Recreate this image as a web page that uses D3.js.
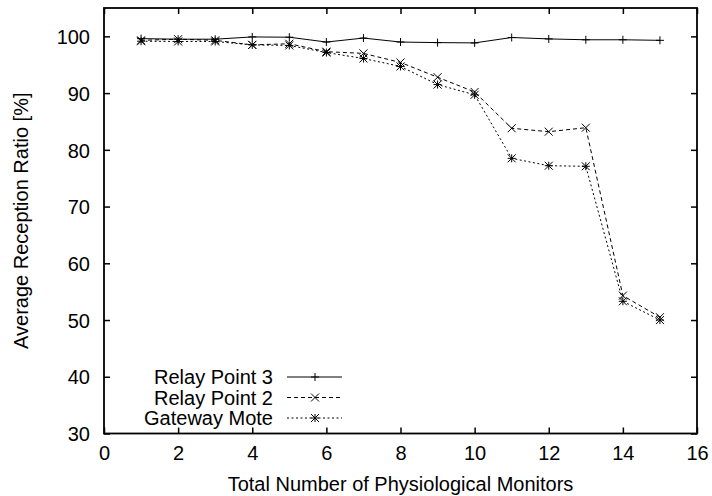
<!DOCTYPE html>
<html>
<head>
<meta charset="utf-8">
<script src="https://cdn.jsdelivr.net/npm/d3@7"></script>
<style>
  html, body { margin: 0; padding: 0; background: #fff; }
  svg text { font-family: "Liberation Sans", Arial, Helvetica, sans-serif; fill: #000; }
</style>
</head>
<body>
<svg id="chart" width="712" height="496"></svg>
<script>
// Number of physiological monitors on the x axis
const monitors = [1, 2, 3, 4, 5, 6, 7, 8, 9, 10, 11, 12, 13, 14, 15];

// Average reception ratio (%) per receiver
const relayPoint3 = [99.6, 99.5, 99.5, 99.9, 99.85, 99.0, 99.7, 99.0, 98.9, 98.85, 99.8, 99.55, 99.4, 99.4, 99.3];
const relayPoint2 = [99.3, 99.5, 99.3, 98.5, 98.7, 97.3, 97.0, 95.4, 92.8, 90.2, 83.8, 83.2, 83.9, 54.3, 50.5];
const gatewayMote = [99.15, 99.1, 99.1, 98.5, 98.4, 97.15, 96.1, 94.7, 91.5, 89.7, 78.5, 77.2, 77.1, 53.3, 50.0];

const xTicks = [0, 2, 4, 6, 8, 10, 12, 14, 16];
const yTicks = [30, 40, 50, 60, 70, 80, 90, 100];

const seriesNames = ["Relay Point 3", "Relay Point 2", "Gateway Mote"];
const seriesValues = [relayPoint3, relayPoint2, gatewayMote];
const seriesDash = [null, "4,3", "2,2.5"];
const seriesMarker = ["plus", "cross", "star"];

const fontSize = 20;

const svg = d3.select("#chart");
const plotLeft = 104, plotRight = 697, plotTop = 8, plotBottom = 433.5;

const x = d3.scaleLinear().domain([0, 16]).range([plotLeft, plotRight]);
const y = d3.scaleLinear().domain([30, 105]).range([plotBottom, plotTop]);

const tickLen = 6;

// Axes with inward ticks on all four sides
const gx = svg.append("g").attr("transform", `translate(0,${plotBottom})`)
  .call(d3.axisBottom(x).tickValues(xTicks).tickSize(-tickLen).tickPadding(12).tickFormat(d3.format("d")));
const gxTop = svg.append("g").attr("transform", `translate(0,${plotTop})`)
  .call(d3.axisTop(x).tickValues(xTicks).tickSize(-tickLen).tickFormat(""));
const gy = svg.append("g").attr("transform", `translate(${plotLeft},0)`)
  .call(d3.axisLeft(y).tickValues(yTicks).tickSize(-tickLen).tickPadding(14).tickFormat(d3.format("d")));
const gyRight = svg.append("g").attr("transform", `translate(${plotRight},0)`)
  .call(d3.axisRight(y).tickValues(yTicks).tickSize(-tickLen).tickFormat(""));

[gx, gxTop, gy, gyRight].forEach(g => {
  g.select(".domain").remove();
  g.selectAll(".tick line").attr("stroke", "#000").attr("stroke-width", 1.5);
  g.selectAll(".tick text").attr("font-size", fontSize).attr("fill", "#000");
});
gx.selectAll(".tick text").attr("dy", "0.71em");
gy.selectAll(".tick text").attr("dy", "0.36em");

// Plot frame
svg.append("rect")
  .attr("x", plotLeft).attr("y", plotTop)
  .attr("width", plotRight - plotLeft).attr("height", plotBottom - plotTop)
  .attr("fill", "none").attr("stroke", "#000").attr("stroke-width", 1.8);

// Axis titles
svg.append("text")
  .attr("x", (plotLeft + plotRight) / 2).attr("y", 491)
  .attr("text-anchor", "middle").attr("font-size", fontSize)
  .text("Total Number of Physiological Monitors");
svg.append("text")
  .attr("transform", `translate(28,${(plotTop + plotBottom) / 2}) rotate(-90)`)
  .attr("text-anchor", "middle").attr("font-size", fontSize)
  .text("Average Reception Ratio [%]");

// Marker glyphs
function markerPath(type, cx, cy) {
  const s = 4;
  const plus = `M${cx - s},${cy}H${cx + s}M${cx},${cy - s}V${cy + s}`;
  const cross = `M${cx - s},${cy - s}L${cx + s},${cy + s}M${cx - s},${cy + s}L${cx + s},${cy - s}`;
  if (type === "plus") return plus;
  if (type === "cross") return cross;
  return plus + cross;
}

const line = d3.line().x((d, i) => x(monitors[i])).y(d => y(d));

seriesValues.forEach((vals, k) => {
  const g = svg.append("g");
  g.append("path")
    .attr("d", line(vals))
    .attr("fill", "none").attr("stroke", "#000").attr("stroke-width", 1)
    .attr("stroke-dasharray", seriesDash[k]);
  g.selectAll("path.mk").data(vals).join("path")
    .attr("class", "mk")
    .attr("d", (d, i) => markerPath(seriesMarker[k], x(monitors[i]), y(d)))
    .attr("stroke", "#000").attr("stroke-width", 1).attr("fill", "none");
});

// Legend
const legendX = 273, legendY = 377, legendStep = 20.5;
seriesNames.forEach((name, k) => {
  const ly = legendY + k * legendStep;
  svg.append("text")
    .attr("x", legendX).attr("y", ly).attr("dy", "0.36em")
    .attr("text-anchor", "end").attr("font-size", fontSize)
    .text(name);
  svg.append("line")
    .attr("x1", 287).attr("x2", 342).attr("y1", ly).attr("y2", ly)
    .attr("stroke", "#000").attr("stroke-width", 1)
    .attr("stroke-dasharray", seriesDash[k]);
  svg.append("path")
    .attr("d", markerPath(seriesMarker[k], 315, ly))
    .attr("stroke", "#000").attr("stroke-width", 1).attr("fill", "none");
});
</script>
</body>
</html>
